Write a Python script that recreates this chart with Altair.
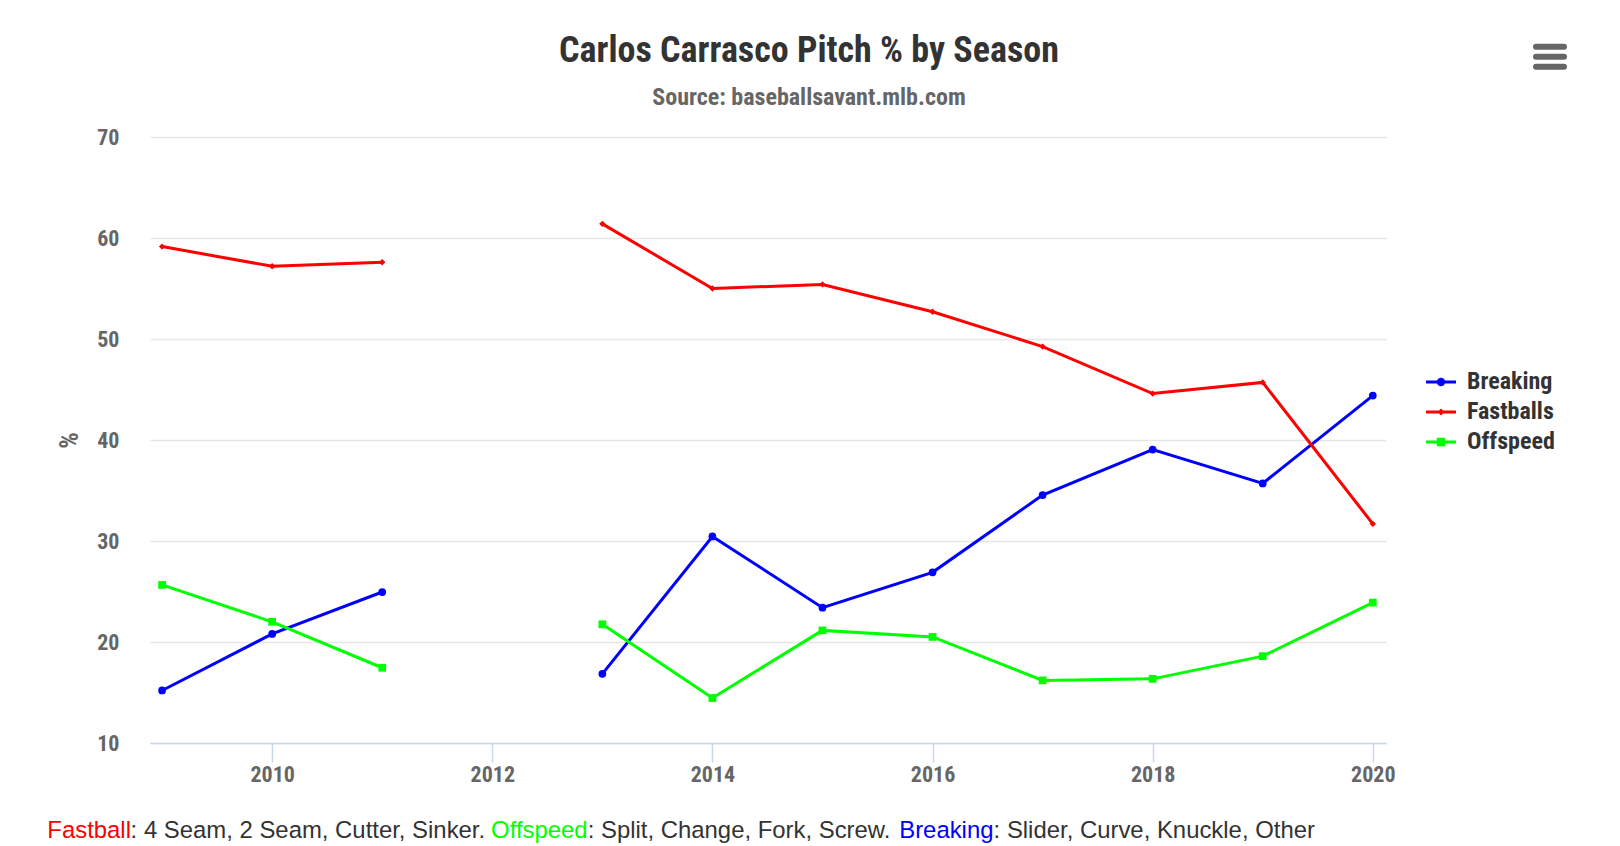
import altair as alt
import pandas as pd
import numpy as np

# ---------------- data ----------------
years = [2009, 2010, 2011, 2013, 2014, 2015, 2016, 2017, 2018, 2019, 2020]
segments = ["a", "a", "a", "b", "b", "b", "b", "b", "b", "b", "b"]
breaking = [15.2, 20.8, 24.95, 16.85, 30.45, 23.4, 26.9, 34.55, 39.05, 35.7, 44.4]
fastballs = [59.15, 57.2, 57.6, 61.4, 55.0, 55.4, 52.7, 49.25, 44.6, 45.7, 31.7]
offspeed = [25.65, 22.0, 17.45, 21.75, 14.45, 21.15, 20.5, 16.2, 16.35, 18.6, 23.9]
series_names = ["Breaking", "Fastballs", "Offspeed"]
series_colors = ["#0000ff", "#ff0000", "#00ff00"]
x_ticks = [2010, 2012, 2014, 2016, 2018, 2020]
y_ticks = [10, 20, 30, 40, 50, 60, 70]

title_text = "Carlos Carrasco Pitch % by Season"
subtitle_text = "Source: baseballsavant.mlb.com"
caption_parts = [
    ("Fastball", "#ff0000"),
    (": 4 Seam, 2 Seam, Cutter, Sinker.", "#333333"),
    ("Offspeed", "#00ff00"),
    (": Split, Change, Fork, Screw.", "#333333"),
    ("Breaking", "#0000ff"),
    (": Slider, Curve, Knuckle, Other", "#333333"),
]

rows = []
for name, vals in zip(series_names, [breaking, fastballs, offspeed]):
    for yr, seg, v in zip(years, segments, vals):
        rows.append({"year": yr, "segment": seg, "series": name, "pct": v})
df = pd.DataFrame(rows)
one = pd.DataFrame({"k": [0]})

FONT = "Roboto Condensed, Liberation Sans Narrow, DejaVu Sans Condensed, Roboto, sans-serif"
CAPFONT = "Liberation Sans, Arial, sans-serif"

# ------------- legend symbol paths (line + marker) -------------
def poly(r, n=20):
    t = np.linspace(0, 2 * np.pi, n, endpoint=False)
    pts = " ".join(f"L{r*np.cos(a):.3f},{r*np.sin(a):.3f}" for a in t)
    return "M" + pts[1:] + "Z"

bar = "M-1,-0.1H1V0.1H-1Z"
path_circle = bar + " " + poly(0.28)
path_diamond = bar + " M0,-0.23L0.23,0L0,0.23L-0.23,0Z"
path_square = bar + " M-0.28,-0.28H0.28V0.28H-0.28Z"

x_enc = alt.X(
    "year:Q",
    scale=alt.Scale(domain=[2008.89, 2020.12], nice=False, zero=False),
    axis=alt.Axis(
        values=x_ticks, format="d", title=None, grid=False,
        tickSize=19, tickColor="#ccd6eb", tickWidth=1.5,
        domainColor="#ccd6eb", domainWidth=1.5,
        labelFont=FONT, labelFontSize=22, labelFontWeight="bold",
        labelColor="#666666", labelPadding=2, labelFlush=False,
        labelOverlap=False, zindex=1,
    ),
)
y_enc = alt.Y(
    "pct:Q",
    scale=alt.Scale(domain=[10, 70], nice=False, zero=False),
    axis=alt.Axis(
        values=y_ticks, title="%", titleX=-81, titleY=303, titleAngle=270,
        titleAlign="center", titleBaseline="middle",
        titleFont=FONT, titleFontSize=26, titleFontWeight="bold", titleColor="#666666",
        grid=True, gridColor="#e6e6e6", gridWidth=1.5,
        domain=False, ticks=False, tickSize=0,
        labelFont=FONT, labelFontSize=22, labelFontWeight="bold",
        labelColor="#666666", labelPadding=31, labelOverlap=False,
    ),
)

color_scale = alt.Scale(domain=series_names, range=series_colors)

lines = alt.Chart(df).mark_line(strokeWidth=3).encode(
    x=x_enc, y=y_enc,
    color=alt.Color("series:N", scale=color_scale, legend=None),
    detail="segment:N",
)

point_layers = []
for name, col, shp, sz in zip(series_names, series_colors,
                              ["circle", "diamond", "square"], [60, 40, 60]):
    point_layers.append(
        alt.Chart(df).transform_filter(alt.datum.series == name)
        .mark_point(filled=True, opacity=1, shape=shp, size=sz, color=col)
        .encode(x=x_enc, y=y_enc)
    )

leg = alt.Legend(
    title=None, orient="none", legendX=1276, legendY=230,
    symbolSize=900, symbolStrokeWidth=0, symbolOpacity=1,
    labelFont=FONT, labelFontSize=24, labelFontWeight="bold",
    labelColor="#333333", labelOffset=11, rowPadding=3, padding=0,
    labelLimit=300,
)
legend_layer = alt.Chart(df).transform_filter("false").mark_point(
    filled=True, opacity=1, size=900
).encode(
    x=x_enc, y=y_enc,
    color=alt.Color("series:N", scale=alt.Scale(domain=series_names, range=series_colors), legend=leg),
    shape=alt.Shape("series:N", scale=alt.Scale(domain=series_names,
                                                range=[path_circle, path_diamond, path_square]), legend=leg),
)

# ------------- titles -------------
title_layer = alt.Chart(one).mark_text(
    text=title_text, font=FONT, fontSize=36, fontWeight="bold", color="#333333",
    align="center", baseline="alphabetic",
).encode(x=alt.value(659), y=alt.value(-75.5))
subtitle_layer = alt.Chart(one).mark_text(
    text=subtitle_text, font=FONT, fontSize=24, fontWeight="bold", color="#666666",
    align="center", baseline="alphabetic",
).encode(x=alt.value(659), y=alt.value(-32))

# ------------- caption -------------
cap_x = [-102.7, -19.4, 341.1, 437.7, 749.2, 843.6]
caption_layers = []
for (txt, col), px in zip(caption_parts, cap_x):
    caption_layers.append(
        alt.Chart(one).mark_text(
            text=txt, font=CAPFONT, fontSize=23.9, color=col,
            align="left", baseline="alphabetic",
        ).encode(x=alt.value(px), y=alt.value(701.3))
    )

# ------------- menu icon -------------
menu_layers = []
for yy in [-90.3, -80.3, -70.3]:
    menu_layers.append(
        alt.Chart(one).mark_rule(strokeWidth=6, strokeCap="round", color="#666666")
        .encode(x=alt.value(1386), x2=alt.value(1414), y=alt.value(yy))
    )

chart = alt.layer(
    lines, *point_layers, legend_layer, title_layer, subtitle_layer,
    *caption_layers, *menu_layers,
).resolve_scale(color="independent", shape="independent").properties(
    width=1236, height=606,
    autosize=alt.AutoSizeParams(type="none"),
    padding={"left": 142, "top": 129, "right": 226, "bottom": 110},
    background="white",
).configure_view(stroke=None)

chart.save("out.html", embed_options={"renderer": "svg", "actions": False})
